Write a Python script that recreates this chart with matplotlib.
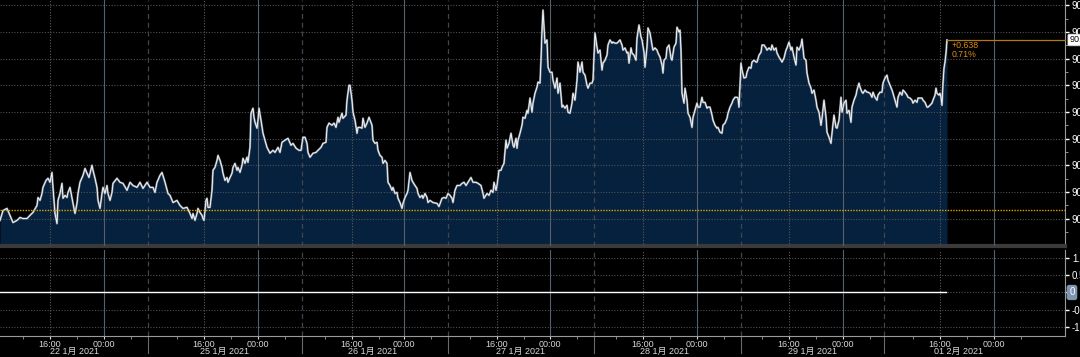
import matplotlib
matplotlib.use("Agg")
import matplotlib.pyplot as plt
import numpy as np

plt.rcParams['font.family'] = ['Liberation Sans', 'Noto Sans CJK SC', 'DejaVu Sans']

# intraday bar index (compressed trading time) and price readings
bars_1 = [0, 3, 7, 10, 13, 17, 20, 23, 27, 30, 33, 37, 38, 40, 42, 43, 46, 48, 50, 52,
          53, 55, 57, 58, 60, 62, 63, 65, 67, 68, 70, 72, 73, 75, 77, 78, 80, 83, 85, 87,
          89, 92, 93, 95, 97, 98, 100, 102, 103, 105, 107, 108, 110, 112, 113, 117, 120, 123, 127, 130,
          133, 137, 140, 143, 147, 150, 153, 155, 157, 160, 162, 165, 168]
price_1 = [89.993, 90.030, 90.038, 90.012, 89.985, 89.993, 90.004, 90.000, 90.000, 90.012,
           90.023, 90.049, 90.079, 90.068, 90.094, 90.117, 90.143, 90.151, 90.136, 90.173,
           90.117, 90.019, 89.981, 90.068, 90.094, 90.132, 90.076, 90.087, 90.079, 90.098,
           90.117, 90.076, 90.057, 90.019, 90.057, 90.094, 90.136, 90.162, 90.188, 90.170,
           90.154, 90.200, 90.181, 90.151, 90.117, 90.068, 90.038, 90.094, 90.117, 90.094,
           90.124, 90.094, 90.068, 90.098, 90.132, 90.151, 90.136, 90.132, 90.106, 90.136,
           90.124, 90.117, 90.136, 90.113, 90.136, 90.117, 90.117, 90.098, 90.136, 90.162,
           90.173, 90.136, 90.094]

bars_2 = [170, 173, 177, 180, 183, 187, 190, 192, 193, 195, 197, 198, 200, 202, 203, 204, 206, 207, 208, 210,
          212, 213, 215, 217, 218, 220, 222, 223, 225, 227, 228, 230, 232, 233, 235, 237, 238, 240, 242, 243,
          245, 247, 248, 250, 251, 253, 254, 255, 257, 258, 259, 261, 263, 265, 267, 270, 273, 275, 278, 280,
          282, 285, 288, 291, 293, 296, 299, 301, 303, 305, 307, 308, 310, 313, 316, 318, 321, 323, 326, 327,
          329, 332, 334, 336, 338, 339, 342, 343, 346, 347, 349]
price_2 = [90.087, 90.060, 90.068, 90.049, 90.038, 90.042, 90.019, 90.000, 90.019, 89.993,
           90.019, 90.038, 90.023, 90.012, 90.000, 89.993, 90.068, 90.076, 90.042, 90.042,
           90.106, 90.181, 90.192, 90.218, 90.237, 90.218, 90.192, 90.170, 90.143, 90.154,
           90.136, 90.154, 90.170, 90.192, 90.207, 90.181, 90.192, 90.173, 90.200, 90.226,
           90.207, 90.230, 90.211, 90.267, 90.395, 90.414, 90.380, 90.361, 90.339, 90.369,
           90.414, 90.369, 90.320, 90.294, 90.267, 90.245, 90.256, 90.248, 90.267, 90.248,
           90.286, 90.294, 90.301, 90.275, 90.282, 90.264, 90.256, 90.256, 90.305, 90.305,
           90.282, 90.248, 90.230, 90.245, 90.248, 90.256, 90.267, 90.282, 90.286, 90.342,
           90.358, 90.350, 90.358, 90.342, 90.380, 90.361, 90.395, 90.376, 90.388, 90.444,
           90.500]

bars_3 = [350, 352, 353, 355, 357, 358, 360, 362, 363, 365, 367, 368, 369, 372, 373, 375, 377, 378, 380, 382,
          383, 385, 387, 388, 390, 392, 393, 395, 397, 398, 400, 402, 403, 405, 407, 408, 410, 412, 413, 415,
          417, 418, 420, 422, 423, 425, 427, 428, 430, 433, 437, 439, 442, 444, 446, 448, 450, 452, 453, 455,
          457, 460, 462, 464, 466, 468, 471, 473, 476, 478, 481, 483, 484, 487, 489, 491, 493, 494, 496, 497,
          499, 501, 502, 504, 506, 507, 509, 511, 513, 514, 516]
price_3 = [90.500, 90.444, 90.399, 90.369, 90.320, 90.342, 90.342, 90.339, 90.376, 90.342,
           90.358, 90.369, 90.380, 90.350, 90.294, 90.282, 90.286, 90.256, 90.237, 90.230,
           90.207, 90.218, 90.207, 90.136, 90.124, 90.106, 90.117, 90.094, 90.098, 90.076,
           90.060, 90.038, 90.057, 90.079, 90.094, 90.106, 90.173, 90.143, 90.136, 90.124,
           90.113, 90.094, 90.079, 90.087, 90.076, 90.094, 90.079, 90.060, 90.068, 90.060,
           90.057, 90.045, 90.076, 90.079, 90.076, 90.094, 90.087, 90.076, 90.060, 90.106,
           90.124, 90.124, 90.132, 90.136, 90.124, 90.136, 90.154, 90.136, 90.136, 90.132,
           90.124, 90.094, 90.076, 90.094, 90.087, 90.106, 90.098, 90.136, 90.106, 90.124,
           90.181, 90.181, 90.192, 90.207, 90.294, 90.264, 90.282, 90.320, 90.275, 90.267,
           90.301]

bars_4 = [517, 518, 520, 522, 523, 525, 527, 528, 530, 532, 533, 535, 537, 538, 540, 541, 542, 543, 544, 545,
          547, 548, 550, 552, 553, 555, 557, 558, 560, 562, 563, 565, 567, 568, 570, 572, 573, 575, 577, 578,
          580, 582, 583, 585, 587, 588, 590, 592, 593, 595, 597, 598, 600, 602, 603, 605, 607, 608, 610, 612,
          613, 615, 617, 618, 620, 622, 623, 625, 627, 628, 629, 631, 632, 634, 636, 637, 639, 641, 642, 644,
          645, 647, 648, 650, 652, 653, 655, 657, 658, 660, 662, 663, 664, 666, 667, 669, 671, 672, 674, 676,
          677, 679]
price_4 = [90.264, 90.294, 90.320, 90.350, 90.380, 90.376, 90.406, 90.395, 90.452, 90.399,
           90.433, 90.470, 90.493, 90.512, 90.508, 90.594, 90.707, 90.782, 90.718, 90.658,
           90.670, 90.568, 90.549, 90.549, 90.519, 90.489, 90.527, 90.470, 90.508, 90.418,
           90.425, 90.414, 90.425, 90.399, 90.395, 90.433, 90.470, 90.444, 90.519, 90.587,
           90.549, 90.587, 90.549, 90.538, 90.500, 90.489, 90.508, 90.508, 90.519, 90.696,
           90.643, 90.621, 90.632, 90.557, 90.583, 90.594, 90.613, 90.651, 90.670, 90.658,
           90.662, 90.658, 90.658, 90.662, 90.670, 90.651, 90.632, 90.640, 90.621, 90.624,
           90.583, 90.640, 90.621, 90.613, 90.594, 90.677, 90.726, 90.681, 90.670, 90.624,
           90.568, 90.643, 90.715, 90.696, 90.651, 90.632, 90.640, 90.632, 90.621, 90.606,
           90.576, 90.546, 90.594, 90.602, 90.640, 90.651, 90.602, 90.594, 90.643, 90.658,
           90.718, 90.700]

bars_5 = [680, 681, 682, 684, 685, 687, 688, 690, 692, 693, 695, 697, 698, 700, 702, 703, 705, 707, 708, 710,
          712, 713, 715, 717, 718, 720, 722, 723, 725, 727, 728, 730, 732, 733, 735, 737, 738, 739, 741, 742,
          744, 746, 747, 749, 751, 752, 754, 756, 757, 759, 761, 762, 764, 766, 767, 769, 771, 772, 774, 776,
          777, 779, 781, 782, 784, 786, 787, 789, 791, 792, 794, 796, 797, 799, 801, 802, 804, 806, 807, 809,
          811, 812, 814, 816, 817, 819, 821, 822, 824, 826, 827, 829, 831, 832, 834, 836, 837, 839, 841, 842,
          844, 846, 847, 849, 851, 852, 854, 856, 857, 859]
price_5 = [90.707, 90.632, 90.470, 90.433, 90.489, 90.444, 90.395, 90.380, 90.342, 90.380,
           90.406, 90.433, 90.418, 90.418, 90.455, 90.436, 90.436, 90.414, 90.418, 90.418,
           90.388, 90.369, 90.350, 90.339, 90.342, 90.324, 90.320, 90.350, 90.358, 90.376,
           90.395, 90.418, 90.433, 90.444, 90.455, 90.455, 90.452, 90.418, 90.583, 90.557,
           90.527, 90.530, 90.549, 90.568, 90.564, 90.587, 90.594, 90.587, 90.587, 90.613,
           90.624, 90.651, 90.651, 90.640, 90.632, 90.640, 90.632, 90.651, 90.632, 90.640,
           90.621, 90.606, 90.594, 90.587, 90.602, 90.632, 90.640, 90.662, 90.632, 90.643,
           90.606, 90.576, 90.643, 90.632, 90.651, 90.673, 90.602, 90.594, 90.546, 90.508,
           90.489, 90.470, 90.482, 90.444, 90.418, 90.399, 90.350, 90.376, 90.444, 90.380,
           90.324, 90.305, 90.282, 90.320, 90.388, 90.342, 90.339, 90.369, 90.455, 90.399,
           90.433, 90.444, 90.395, 90.406, 90.361, 90.418, 90.444, 90.463, 90.482, 90.508]

bars_6 = [860, 862, 863, 865, 867, 868, 870, 872, 873, 875, 877, 878, 880, 882, 883, 885, 887, 888, 890, 892,
          893, 895, 897, 898, 900, 902, 903, 905, 907, 908, 910, 912, 913, 915, 917, 918, 920, 922, 923, 925,
          927, 928, 930, 932, 933, 935, 936, 937, 939, 940, 941, 942, 943, 944, 945, 946, 947]
price_6 = [90.493, 90.474, 90.470, 90.482, 90.474, 90.474, 90.470, 90.455, 90.474, 90.455,
           90.444, 90.463, 90.474, 90.474, 90.508, 90.527, 90.538, 90.519, 90.500, 90.482,
           90.470, 90.444, 90.418, 90.455, 90.474, 90.463, 90.482, 90.474, 90.463, 90.455,
           90.452, 90.444, 90.433, 90.444, 90.436, 90.452, 90.452, 90.452, 90.444, 90.436,
           90.418, 90.418, 90.425, 90.433, 90.444, 90.463, 90.489, 90.470, 90.463, 90.470,
           90.455, 90.425, 90.508, 90.564, 90.587, 90.621, 90.670]

ref_price = 90.032  # orange dotted reference level

# lower study panel (flat zero line)
study_bars = [0, 946]
study_vals = [0.0, 0.0]

# time axis (bar positions)
session_breaks = [148, 302, 448, 594, 741, 884]
ticks_16 = [50, 204, 352, 497, 643, 789, 940]
ticks_00 = [104, 258, 404, 550, 697, 843, 994]
day_pos = [75, 225, 373, 520, 665, 812, 958]
day_labels = ['22 1月 2021', '25 1月 2021', '26 1月 2021', '27 1月 2021',
              '28 1月 2021', '29 1月 2021', '01 2月 2021']

price_ticks = [90.0, 90.1, 90.2, 90.3, 90.4, 90.5, 90.6, 90.7, 90.8]
study_ticks = [1.0, 0.5, 0.0, -0.5, -1.0]
study_tick_labels = ['1.0', '0.5', '', '-0.5', '-1.0']

XMAX = 1065
W, H = 1080, 357

bars = np.array(bars_1 + bars_2 + bars_3 + bars_4 + bars_5 + bars_6)
price = np.array(price_1 + price_2 + price_3 + price_4 + price_5 + price_6)

fig = plt.figure(figsize=(W / 100, H / 100), dpi=100, facecolor='black')
ax = fig.add_axes([0, 1 - 246 / H, XMAX / W, 246 / H], facecolor='black')
ax2 = fig.add_axes([0, 1 - 336 / H, XMAX / W, 86 / H], facecolor='black')

grid_h = dict(color='#505050', lw=0.8, ls=(0, (1, 1.5)))


def vertical_grid(a):
    for x in ticks_16:
        a.axvline(x, color='#5a5a5a', lw=0.8, ls=(0, (1, 1.5)), zorder=3)
    for x in ticks_00:
        a.axvline(x, color='#56606c', lw=0.8, ls='-', zorder=3)
    for x in session_breaks:
        a.axvline(x, color='#3e4650', lw=0.9, ls=(0, (4, 3)), zorder=3)


# ---- main price panel
ymin = 89.897
ax.set_xlim(0, XMAX)
ax.set_ylim(ymin, 90.82)
for y in price_ticks:
    ax.axhline(y, zorder=3, **grid_h)
vertical_grid(ax)
ax.fill_between(bars, price, ymin, color='#06213e', zorder=2, lw=0)
ax.plot(bars, price, color='#7f8893', lw=1.5, zorder=4, solid_joinstyle='round')
ax.plot(bars, price, color='white', lw=0.6, zorder=5, solid_joinstyle='round')
ax.axhline(ref_price, color='#e0a000', lw=1.0, ls=(0, (1, 1)), zorder=6)

last = price[-1]
chg = last - ref_price
ax.plot([bars[-1], XMAX], [last, last], color='#b07a10', lw=0.9, zorder=6, clip_on=False)
ax.annotate(f"+{chg:.3f}", xy=(bars[-1], last), xytext=(3.5, -3.8), textcoords='offset points',
            fontsize=6.3, color='#e08a10', va='center', ha='left')
ax.annotate(f"{chg / ref_price * 100:.2f}%", xy=(bars[-1], last), xytext=(3.5, -10.8),
            textcoords='offset points', fontsize=6.3, color='#e08a10', va='center', ha='left')
ax.text(1.004, last, f"{last:.3f}", transform=ax.get_yaxis_transform(), fontsize=6.5,
        color='black', va='center', ha='left',
        bbox=dict(boxstyle='round,pad=0.15', fc='white', ec='#cccccc', lw=0.5))

ax.yaxis.tick_right()
ax.set_yticks(price_ticks)
ax.set_yticklabels([f"{v:.1f}" for v in price_ticks])
ax.set_yticks([v + 0.05 for v in price_ticks[:-1]] + [89.95], minor=True)
ax.tick_params(axis='y', which='major', colors='white', labelsize=7, length=3, width=1, pad=2)
ax.tick_params(axis='y', which='minor', colors='#aaaaaa', length=2, width=0.6)
ax.set_xticks([])
for s in ['top', 'left']:
    ax.spines[s].set_visible(False)
ax.spines['right'].set_color('#9a9a9a')
ax.spines['bottom'].set_color('#3a3a3a')
ax.spines['bottom'].set_linewidth(3)

# ---- lower study panel
ax2.set_xlim(0, XMAX)
ax2.set_ylim(-1.26, 1.23)
for y in study_ticks:
    ax2.axhline(y, zorder=3, **grid_h)
vertical_grid(ax2)
ax2.plot(study_bars, study_vals, color='white', lw=1.0, zorder=5)
ax2.text(1.004, 0, "0", transform=ax2.get_yaxis_transform(), fontsize=7, color='white',
         va='center', ha='left',
         bbox=dict(boxstyle='round,pad=0.2', fc='#7d95b0', ec='#7d95b0'))
ax2.yaxis.tick_right()
ax2.set_yticks(study_ticks)
ax2.set_yticklabels(study_tick_labels)
ax2.tick_params(axis='y', colors='white', labelsize=7, length=3, width=1, pad=2)

xt = sorted(ticks_16 + ticks_00)
ax2.set_xticks(xt)
ax2.set_xticklabels(['16:00' if x in ticks_16 else '00:00' for x in xt])
minor_x = [t - 27 for t in ticks_16] + [t + 27 for t in ticks_16] + [t + 27 for t in ticks_00]
ax2.set_xticks([m for m in minor_x if 0 < m < XMAX], minor=True)
ax2.tick_params(axis='x', which='major', colors='#d8d8d8', labelsize=6.5, length=2, pad=1)
ax2.tick_params(axis='x', which='minor', colors='#9a9a9a', length=2)
for x, lab in zip(day_pos, day_labels):
    ax2.text(x, -0.13, lab, transform=ax2.get_xaxis_transform(), ha='center', va='top',
             fontsize=6.5, color='#d8d8d8')
for x in session_breaks:
    ax2.plot([x, x], [0, -0.2], transform=ax2.get_xaxis_transform(), color='#6a6a6a',
             lw=0.8, clip_on=False)
for s in ['top', 'left']:
    ax2.spines[s].set_visible(False)
ax2.spines['right'].set_color('#9a9a9a')
ax2.spines['bottom'].set_color('#9a9a9a')

fig.savefig('out.png', dpi=100, facecolor='black')
